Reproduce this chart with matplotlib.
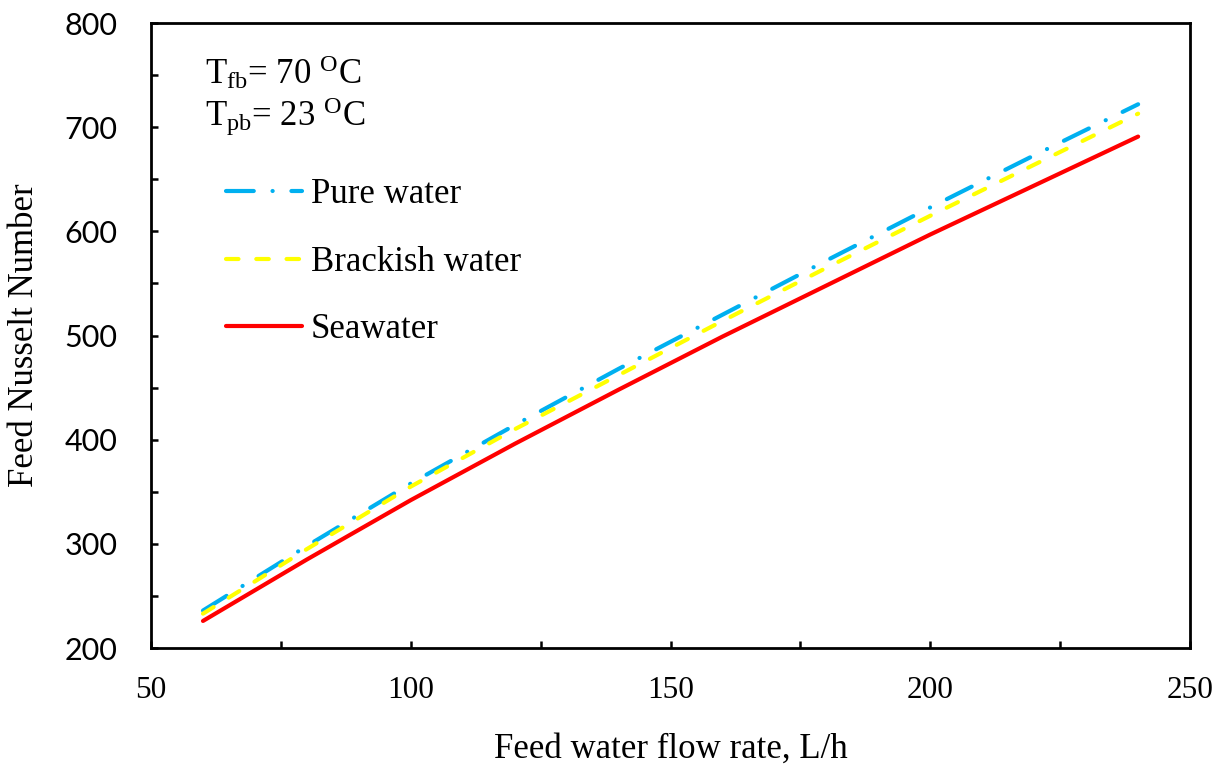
import matplotlib
matplotlib.use("Agg")
import matplotlib.pyplot as plt
from matplotlib.ticker import MultipleLocator

plt.rcParams['font.family'] = 'Liberation Serif'
plt.rcParams['mathtext.fontset'] = 'custom'
plt.rcParams['mathtext.rm'] = 'Liberation Serif'
plt.rcParams['mathtext.it'] = 'Liberation Serif'
plt.rcParams['lines.scale_dashes'] = False

# Feed water flow rate (L/h)
flow_rate = [60, 80, 100, 120, 140, 160, 180, 200, 220, 240]
# Feed Nusselt number for each feed type
nu_pure = [236, 298, 358, 414, 468, 520, 572, 623, 673, 722]
nu_brackish = [233, 295, 355, 410, 462, 514, 565, 615, 664, 713]
nu_seawater = [226, 285, 342, 396, 448, 499, 548, 597, 644, 691]

series_labels = ["Pure water", "Brackish water", "Seawater"]
x_label = "Feed water flow rate, L/h"
y_label = "Feed Nusselt Number"

fig = plt.figure(figsize=(12.27, 7.65), dpi=100)
ax = fig.add_axes([0.1231, 0.1529, 0.8468, 0.8170])

lw = 3.0
ax.plot(flow_rate, nu_pure, color="#00B0F0", lw=lw,
        dashes=(20, 13.5, 0.1, 13.5), dash_capstyle="round",
        label=series_labels[0])
ax.plot(flow_rate, nu_brackish, color="#FFFF00", lw=lw,
        dashes=(9, 12.8), dash_capstyle="round",
        label=series_labels[1])
ax.plot(flow_rate, nu_seawater, color="#FF0000", lw=lw,
        solid_capstyle="round", label=series_labels[2])

ax.set_xlim(50, 250)
ax.set_ylim(200, 800)
ax.xaxis.set_major_locator(MultipleLocator(50))
ax.xaxis.set_minor_locator(MultipleLocator(25))
ax.yaxis.set_major_locator(MultipleLocator(100))
ax.yaxis.set_minor_locator(MultipleLocator(50))

for s in ax.spines.values():
    s.set_linewidth(2.0)

ax.tick_params(which="both", direction="in", length=5, width=1.8,
               top=False, right=False)
ax.tick_params(axis="x", which="major", labelsize=22.5, pad=20)
ax.tick_params(axis="y", which="major", labelsize=22, pad=24)
for t in ax.get_yticklabels():
    t.set_family("Lato")

ax.set_xlabel(x_label, fontsize=25, labelpad=20)
ax.set_ylabel(y_label, fontsize=25, labelpad=17)

ax.text(0.052, 0.902, r"$\mathregular{T_{fb}}$= 70 $\mathregular{^{O}}$C",
        transform=ax.transAxes, fontsize=25, va="baseline", ha="left")
ax.text(0.052, 0.835, r"$\mathregular{T_{pb}}$= 23 $\mathregular{^{O}}$C",
        transform=ax.transAxes, fontsize=25, va="baseline", ha="left")

ax.legend(loc="upper left", bbox_to_anchor=(0.072, 0.752), frameon=False,
          fontsize=25, handlelength=2.2, handletextpad=0.25,
          labelspacing=1.0, borderpad=0, borderaxespad=0)

fig.savefig("out.png", dpi=100)
